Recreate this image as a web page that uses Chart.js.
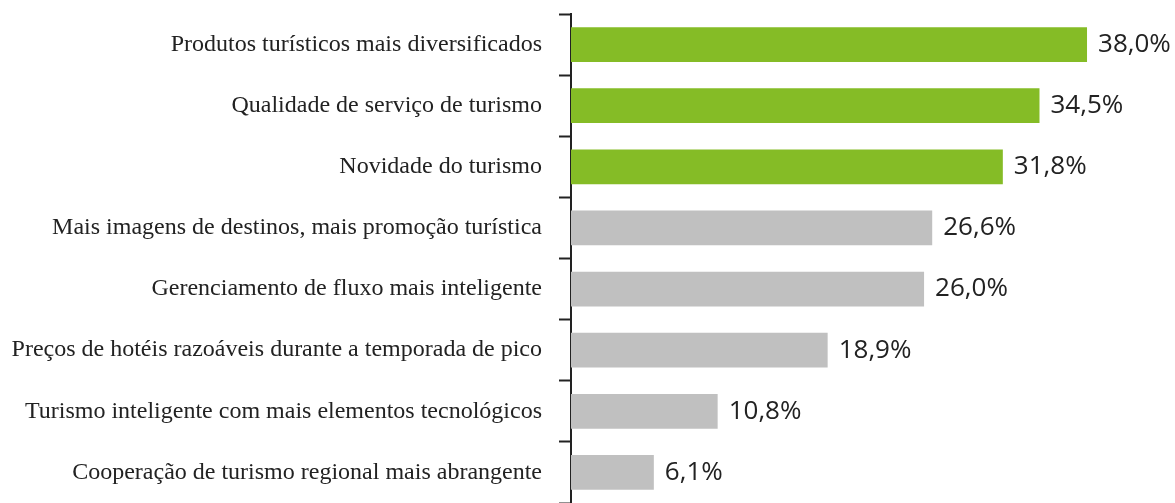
<!DOCTYPE html>
<html>
<head>
<meta charset="utf-8">
<script src="https://cdn.jsdelivr.net/npm/chart.js@4"></script>
<style>
  html, body { margin: 0; padding: 0; background: #fff; }
  #wrap { width: 1175px; height: 503px; }
</style>
</head>
<body>
<div id="wrap"><canvas id="barChart"></canvas></div>
<script>
let categories = [
  'Produtos turísticos mais diversificados',
  'Qualidade de serviço de turismo',
  'Novidade do turismo',
  'Mais imagens de destinos, mais promoção turística',
  'Gerenciamento de fluxo mais inteligente',
  'Preços de hotéis razoáveis durante a temporada de pico',
  'Turismo inteligente com mais elementos tecnológicos',
  'Cooperação de turismo regional mais abrangente'
];
let values = [38.0, 34.5, 31.8, 26.6, 26.0, 18.9, 10.8, 6.1];
let valueLabels = ['38,0%', '34,5%', '31,8%', '26,6%', '26,0%', '18,9%', '10,8%', '6,1%'];
let highlighted = [true, true, true, false, false, false, false, false];

// value text at the end of each bar
const endLabels = {
  id: 'endLabels',
  afterDatasetsDraw(chart) {
    const ctx = chart.ctx;
    const meta = chart.getDatasetMeta(0);
    ctx.save();
    ctx.font = '26px "Open Sans"';
    ctx.fillStyle = '#222';
    ctx.textBaseline = 'middle';
    meta.data.forEach((bar, i) => {
      ctx.fillText(valueLabels[i], bar.x + 11, bar.y);
    });
    ctx.restore();
  }
};

let ctx = document.getElementById('barChart').getContext('2d');
let chart = new Chart(ctx, {
  type: 'bar',
  data: {
    labels: categories,
    datasets: [{
      data: values,
      backgroundColor: highlighted.map(h => h ? '#85BC26' : '#C0C0C0'),
      barPercentage: 0.57,
      categoryPercentage: 1.0
    }]
  },
  options: {
    indexAxis: 'y',
    responsive: true,
    maintainAspectRatio: false,
    animation: false,
    layout: {
      padding: { top: 14, right: 6.5, bottom: 0, left: 0 }
    },
    plugins: {
      legend: { display: false },
      tooltip: { enabled: false }
    },
    scales: {
      x: {
        display: false,
        min: 0,
        max: 44
      },
      y: {
        afterFit(scale) {
          scale.width = 571;
          scale.paddingTop = 0;
          scale.paddingBottom = 0;
        },
        border: { display: true, color: '#222', width: 2 },
        grid: {
          drawOnChartArea: false,
          tickLength: 12,
          tickColor: '#222',
          tickWidth: 2
        },
        ticks: {
          color: '#222',
          padding: 17,
          font: { family: '"Liberation Serif"', size: 24 }
        }
      }
    }
  },
  plugins: [endLabels]
});
</script>
</body>
</html>
